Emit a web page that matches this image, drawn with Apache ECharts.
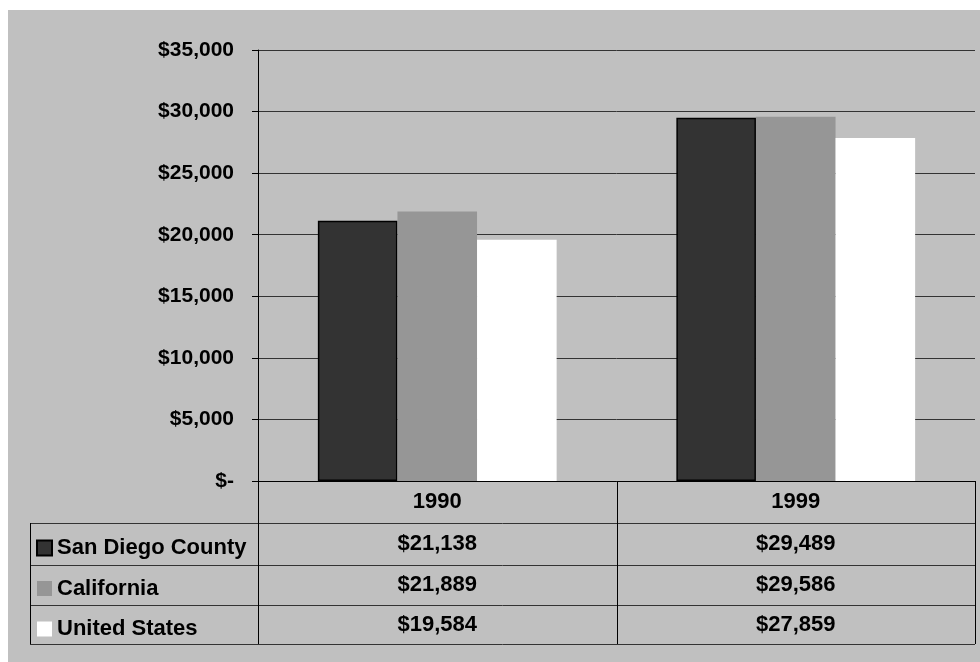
<!DOCTYPE html>
<html>
<head>
<meta charset="utf-8">
<script src="https://cdn.jsdelivr.net/npm/echarts@6/dist/echarts.min.js"></script>
<style>
  html, body { margin: 0; padding: 0; background: #fff; }
  #chart { width: 980px; height: 662px; }
</style>
</head>
<body>
<div id="chart"></div>
<script>
  // data
  var years = ['1990', '1999'];
  var seriesNames = ['San Diego County', 'California', 'United States'];
  var sanDiego = [21138, 29489];
  var california = [21889, 29586];
  var unitedStates = [19584, 27859];
  var barColors = ['#333333', '#969696', '#ffffff'];

  var font = "'Liberation Sans', Arial, sans-serif";

  // layout (pixels)
  var plotLeft = 258, plotRight = 975, plotTop = 50, plotBottom = 481;
  var tableLeft = 30;
  var rowY = [481, 523, 565, 605, 644];
  var colMid = (plotLeft + plotRight) / 2;

  function money(v) {
    return '$' + v.toLocaleString('en-US');
  }

  var rowData = [sanDiego, california, unitedStates];

  var labelStyle = {
    fontFamily: font,
    fontWeight: 'bold',
    fontSize: 22,
    color: '#000'
  };

  // header axis + one hidden-line axis per table row
  var xAxes = [{
    type: 'category',
    data: years,
    position: 'bottom',
    axisLine: { show: true, lineStyle: { color: '#000', width: 1 } },
    axisTick: { show: false },
    axisLabel: Object.assign({
      interval: 0,
      margin: (rowY[1] - rowY[0]) / 2,
      verticalAlign: 'middle'
    }, labelStyle)
  }];
  rowData.forEach(function (vals, i) {
    xAxes.push({
      type: 'category',
      data: vals.map(money),
      position: 'bottom',
      offset: rowY[i + 1] - rowY[0],
      axisLine: { show: false },
      axisTick: { show: false },
      splitLine: { show: false },
      axisLabel: Object.assign({
        interval: 0,
        margin: (rowY[i + 2] - rowY[i + 1]) / 2,
        verticalAlign: 'middle'
      }, labelStyle)
    });
  });

  // table rules
  var lines = [];
  function hline(y, x1, x2, c) {
    lines.push({ type: 'line', z: 10, shape: { x1: x1, y1: y, x2: x2, y2: y },
      style: { stroke: c, lineWidth: 1 } });
  }
  function vline(x, y1, y2, c) {
    lines.push({ type: 'line', z: 10, shape: { x1: x, y1: y1, x2: x, y2: y2 },
      style: { stroke: c, lineWidth: 1 } });
  }
  for (var r = 1; r < rowY.length; r++) {
    hline(rowY[r] + 0.5, tableLeft, plotRight, '#333');
  }
  vline(tableLeft + 0.5, rowY[1], rowY[4], '#000');
  vline(plotLeft + 0.5, rowY[0], rowY[4], '#000');
  vline(Math.round(colMid) + 0.5, rowY[0], rowY[4], '#000');
  vline(plotRight + 0.5, rowY[0], rowY[4], '#000');

  var chart = echarts.init(document.getElementById('chart'));

  chart.setOption({
    animation: false,
    backgroundColor: '#c0c0c0',
    textStyle: { fontFamily: font },
    graphic: [
      { type: 'rect', z: -1, shape: { x: 0, y: 0, width: 980, height: 10 }, style: { fill: '#fff' } },
      { type: 'rect', z: -1, shape: { x: 0, y: 0, width: 8, height: 662 }, style: { fill: '#fff' } }
    ].concat(lines),
    grid: {
      left: plotLeft,
      right: 980 - plotRight,
      top: plotTop,
      bottom: 662 - plotBottom,
      containLabel: false
    },
    legend: {
      orient: 'vertical',
      left: 36,
      top: 536,
      padding: 0,
      itemWidth: 15,
      itemHeight: 15,
      itemGap: 16.5,
      icon: 'rect',
      data: seriesNames,
      textStyle: {
        fontFamily: font,
        fontWeight: 'bold',
        fontSize: 22,
        lineHeight: 24,
        color: '#000',
        padding: [0, 0, 0, 0]
      }
    },
    xAxis: xAxes,
    yAxis: {
      type: 'value',
      min: 0,
      max: 35000,
      interval: 5000,
      axisLine: { show: true, lineStyle: { color: '#000', width: 1 } },
      axisTick: { show: true, length: 6, lineStyle: { color: '#000' } },
      splitLine: { show: true, lineStyle: { color: '#333', width: 1 } },
      axisLabel: Object.assign({
        margin: 24,
        formatter: function (v) { return v === 0 ? '$-' : money(v); }
      }, labelStyle, { fontSize: 21 })
    },
    series: [
      {
        name: seriesNames[0],
        type: 'bar',
        data: sanDiego,
        barGap: '0%',
        barCategoryGap: '33.4%',
        itemStyle: { color: barColors[0], borderColor: '#000', borderWidth: 1.5 }
      },
      {
        name: seriesNames[1],
        type: 'bar',
        data: california,
        itemStyle: { color: barColors[1], borderWidth: 0 }
      },
      {
        name: seriesNames[2],
        type: 'bar',
        data: unitedStates,
        itemStyle: { color: barColors[2], borderWidth: 0 }
      }
    ]
  });
</script>
</body>
</html>
